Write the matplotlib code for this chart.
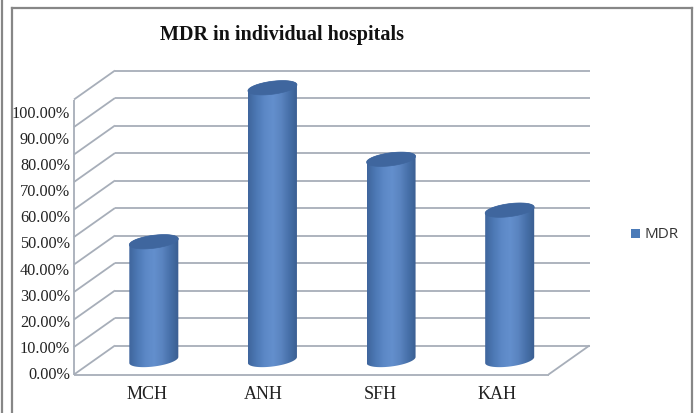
import numpy as np
import matplotlib
matplotlib.use("Agg")
import matplotlib.pyplot as plt
from matplotlib.colors import LinearSegmentedColormap
from matplotlib.lines import Line2D
from matplotlib.patches import PathPatch, Rectangle
from matplotlib.path import Path
from matplotlib.transforms import Affine2D

categories = ["MCH", "ANH", "SFH", "KAH"]
mdr_values = [43, 99, 73, 54.5]
tick_values = [0, 10, 20, 30, 40, 50, 60, 70, 80, 90, 100]
tick_labels = ["0.00%", "10.00%", "20.00%", "30.00%", "40.00%", "50.00%",
               "60.00%", "70.00%", "80.00%", "90.00%", "100.00%"]
series_name = "MDR"
title_text = "MDR in individual hospitals"

W, H = 696, 414
fig = plt.figure(figsize=(W / 100, H / 100), dpi=100, facecolor="white")


def box(x0, x1, ytop, ybot):
    return [x0 / W, 1 - ybot / H, (x1 - x0) / W, (ybot - ytop) / H]


SERIF = "Liberation Serif"
GRID = "#a7aeb9"
FRAME = "#878787"

# page and chart frame
for xs, ys in [([2, 2], [0, 414]), ([12, 12], [9, 414]), ([12, 692], [9, 9]), ([692, 692], [9, 414])]:
    fig.add_artist(Line2D([x / W for x in xs], [1 - y / H for y in ys], color=FRAME, lw=1.6))

# main axes: mid-depth plane of the 3D box
ax = fig.add_axes(box(94.5, 569, 86, 361))
ax.set_xlim(0, 4)
ax.set_ylim(0, 100)
ax.axis("off")

DX, DY = 20.5, 14.5
back = ax.transData + Affine2D().translate(DX, DY)
front = ax.transData + Affine2D().translate(-DX, -DY)

grid_kw = dict(color=GRID, lw=1.3, clip_on=False, solid_capstyle="butt", zorder=1)
for v in tick_values:
    ax.plot([0, 4], [v, v], transform=back, **grid_kw)
    p0 = front.transform((0, v))
    p1 = back.transform((0, v))
    ax.plot([p0[0], p1[0]], [p0[1], p1[1]], transform=None, **grid_kw)

# left wall edge, floor front edge and right floor edge
ax.plot([0, 0], [0, 100], transform=front, **grid_kw)
ax.plot([0, 4], [0, 0], transform=front, **grid_kw)
p0 = front.transform((4, 0))
p1 = back.transform((4, 0))
ax.plot([p0[0], p1[0]], [p0[1], p1[1]], transform=None, **grid_kw)

# cylinders
cmap = LinearSegmentedColormap.from_list(
    "cyl", ["#3f659c", "#4c78b4", "#5c88c6", "#638fcd", "#5a84c0", "#466fa8", "#3a5e90"])
grad = np.linspace(0, 1, 256).reshape(1, -1)
bar_w = 49 / 118.6
unit = 2.75
t = np.linspace(0, 2 * np.pi, 121)


def rim(c, v, tt):
    return np.column_stack([c + bar_w / 2 * np.cos(tt),
                            v + (6.5 * np.sin(tt) + 3 * np.cos(tt)) / unit])


for i, v in enumerate(mdr_values):
    c = i + 0.5
    lower = rim(c, 0, np.linspace(np.pi, 2 * np.pi, 60))
    upper = rim(c, v, np.linspace(0, np.pi, 60))
    body = np.vstack([lower, upper, lower[:1]])
    patch = PathPatch(Path(body), transform=ax.transData, fc="none", ec="none")
    ax.add_patch(patch)
    im = ax.imshow(grad, cmap=cmap, aspect="auto", zorder=3,
                   extent=[c - bar_w / 2, c + bar_w / 2, -4, v + 4])
    im.set_clip_box(fig.bbox)
    im.set_clip_path(patch)
    top = PathPatch(Path(rim(c, v, t)), fc="#3f669e", ec="#3f669e", lw=0.5, zorder=4, clip_on=False)
    ax.add_patch(top)
ax.set_xlim(0, 4)
ax.set_ylim(0, 100)

# tick-label axes
lab = fig.add_axes(box(88.6, 555.4, 112, 373), facecolor="none")
lab.set_xlim(0, 4)
lab.set_ylim(0, 100)
for s in lab.spines.values():
    s.set_visible(False)
lab.set_xticks([i + 0.5 for i in range(len(categories))], categories, fontfamily=SERIF, fontsize=13, color="#222222")
lab.set_yticks(tick_values, tick_labels, fontfamily=SERIF, fontsize=11.7, color="#222222")
lab.tick_params(axis="both", length=0)
lab.tick_params(axis="y", pad=13.4)
lab.tick_params(axis="x", pad=9.5)

fig.text(282.5 / W, 1 - 35 / H, title_text, ha="center", va="center",
         fontfamily=SERIF, fontweight="bold", fontsize=14.5, color="#111111")

# legend
fig.add_artist(Rectangle((631 / W, 1 - 239 / H), 9 / W, 9 / H, transform=fig.transFigure,
                         fc="#4a7ab8", ec="none"))
fig.text(645 / W, 1 - 235 / H, series_name, ha="left", va="center",
         fontfamily="Open Sans", fontsize=11, color="#333333")

fig.savefig("out.png", dpi=100)
